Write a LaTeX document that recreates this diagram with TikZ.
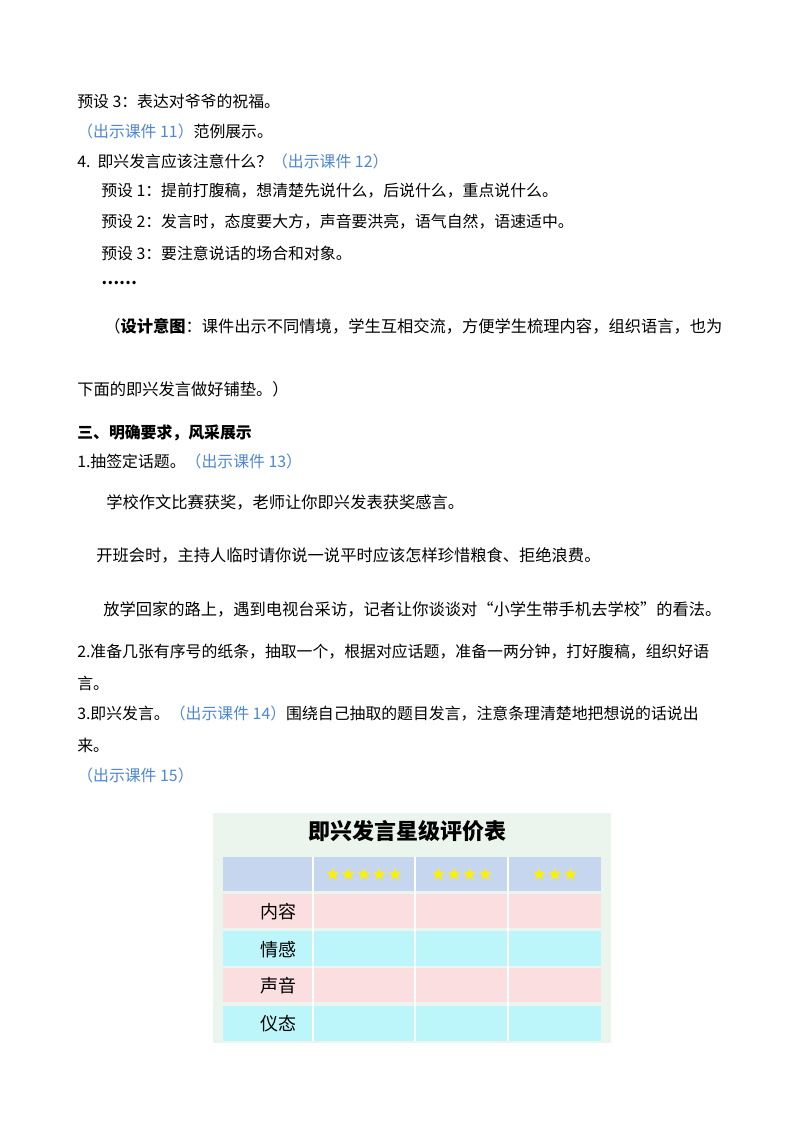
\documentclass[tikz,border=0pt]{standalone}
\usepackage{fontspec}
\setmainfont{Noto Sans CJK SC}
\newfontfamily\starfont{DejaVu Sans}
\definecolor{kj}{RGB}{80,135,210}
\definecolor{hdr}{RGB}{198,214,238}
\definecolor{pinkrow}{RGB}{250,222,224}
\definecolor{cyanrow}{RGB}{188,246,250}
\definecolor{tabbg}{RGB}{236,244,238}
\definecolor{staryel}{RGB}{255,240,0}
\begin{document}
\begin{tikzpicture}[x=0.75pt,y=-0.75pt,
  txt/.style={anchor=west,inner sep=0,font=\fontsize{11.9}{13}\selectfont},
  big/.style={anchor=west,inner sep=0,font=\fontsize{12.2}{14}\selectfont},
  cell/.style={anchor=center,inner sep=0,font=\fontsize{13.5}{15}\selectfont},
  stars/.style={anchor=center,inner sep=0,text=staryel,font=\starfont\fontsize{13}{14}\selectfont}]
\useasboundingbox (0,0) rectangle (800,1132);
\fill[white] (0,0) rectangle (800,1132);
\node[txt] (l1) at (77,101) {预设 3：表达对爷爷的祝福。};
\node[txt] (l2) at (77,131) {\textcolor{kj}{（出示课件 11）}范例展示。};
\node[txt] (l3) at (77,161) {4.\ \ 即兴发言应该注意什么？\textcolor{kj}{（出示课件 12）}};
\node[txt] (l4) at (101,191) {预设 1：提前打腹稿，想清楚先说什么，后说什么，重点说什么。};
\node[txt] (l5) at (101,222) {预设 2：发言时，态度要大方，声音要洪亮，语气自然，语速适中。};
\node[txt] (l6) at (101,253) {预设 3：要注意说话的场合和对象。};
\node[txt] (l7) at (101,283) {\bfseries ……};
\node[big] (l8) at (104,326) {（\textbf{设计意图}：课件出示不同情境，学生互相交流，方便学生梳理内容，组织语言，也为};
\node[big] (l9) at (77,389) {下面的即兴发言做好铺垫。）};
\node[txt] (l10) at (77,433) {\bfseries 三、明确要求，风采展示};
\node[txt] (l11) at (77,461) {1.抽签定话题。\textcolor{kj}{（出示课件 13）}};
\node[big] (l12) at (106,502) {学校作文比赛获奖，老师让你即兴发表获奖感言。};
\node[big] (l13) at (96,555) {开班会时，主持人临时请你说一说平时应该怎样珍惜粮食、拒绝浪费。};
\node[big] (l14) at (103,609) {放学回家的路上，遇到电视台采访，记者让你谈谈对“小学生带手机去学校”的看法。};
\node[txt] (l15) at (77,652) {2.准备几张有序号的纸条，抽取一个，根据对应话题，准备一两分钟，打好腹稿，组织好语};
\node[txt] (l16) at (77,683) {言。};
\node[txt] (l17) at (77,714) {3.即兴发言。\textcolor{kj}{（出示课件 14）}围绕自己抽取的题目发言，注意条理清楚地把想说的话说出};
\node[txt] (l18) at (77,745) {来。};
\node[txt] (l19) at (77,775) {\textcolor{kj}{（出示课件 15）}};
% table
\fill[tabbg] (213,813) rectangle (611,1043);
\node[inner sep=0,font=\fontsize{16.5}{18}\selectfont\bfseries] (title) at (407,831) {即兴发言星级评价表};
\fill[hdr] (223,857) rectangle (601,891);
\fill[pinkrow] (223,894) rectangle (601,928);
\fill[cyanrow] (223,931) rectangle (601,966);
\fill[pinkrow] (223,968) rectangle (601,1002);
\fill[cyanrow] (223,1006) rectangle (601,1041);
\foreach \xx in {313,415,508} \draw[white,line width=0.8pt] (\xx,857) -- (\xx,1041);
\node[stars] (s5) at (364,874) {★★★★★};
\node[stars] (s4) at (462,874) {★★★★};
\node[stars] (s3) at (555,874) {★★★};
\node[cell] (r1) at (278,912) {内容};
\node[cell] (r2) at (278,950) {情感};
\node[cell] (r3) at (278,986) {声音};
\node[cell] (r4) at (278,1024) {仪态};
\end{tikzpicture}
\end{document}
